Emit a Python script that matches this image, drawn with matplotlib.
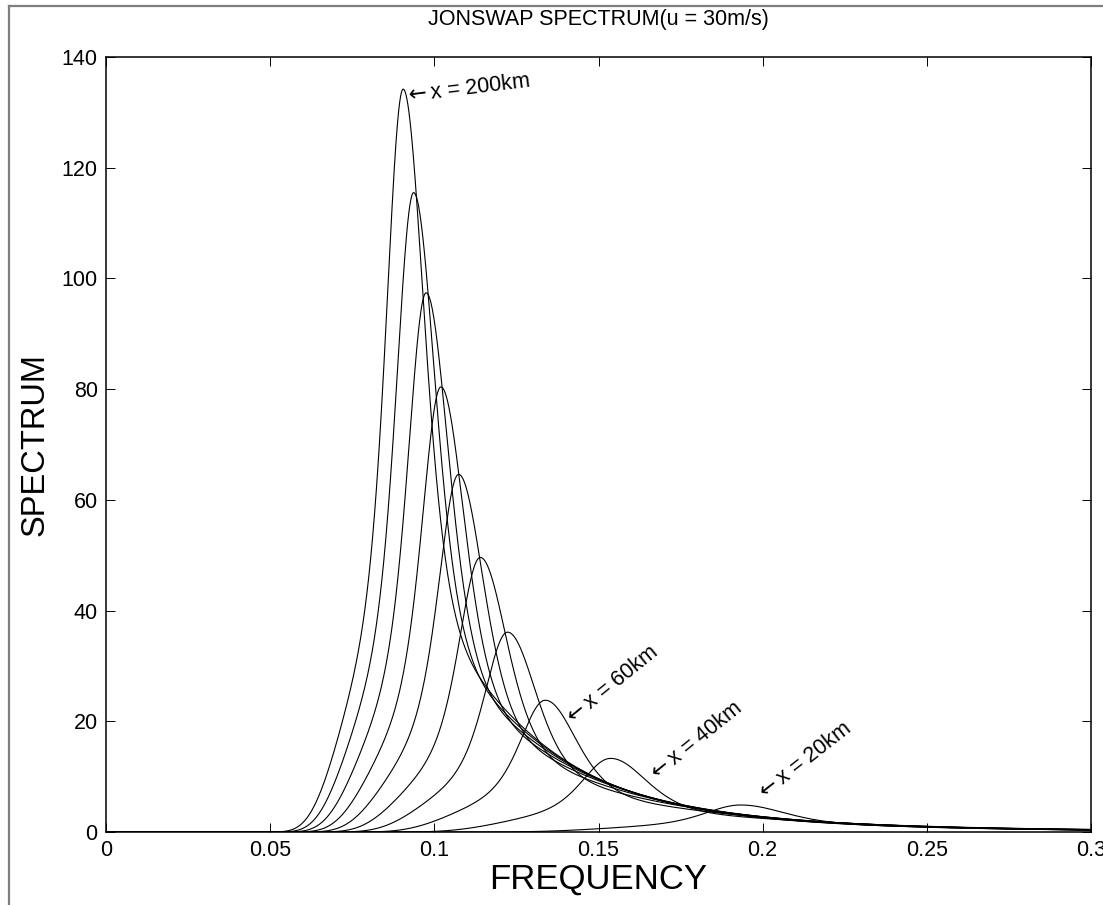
import numpy as np
import matplotlib
matplotlib.use("Agg")
import matplotlib.pyplot as plt
from matplotlib.lines import Line2D

# ---- data ----
fetch_km = [20, 40, 60, 80, 100, 120, 140, 160, 180, 200]
peak_freq = [0.1933, 0.1537, 0.1338, 0.1223, 0.1140, 0.1074, 0.1020, 0.0975, 0.0937, 0.0905]
peak_value = [4.88, 13.3, 23.8, 36.1, 49.6, 64.6, 80.4, 97.4, 115.5, 134.2]

labels = ["x = 200km", "x = 60km", "x = 40km", "x = 20km"]
label_f = [0.0908, 0.1402, 0.1659, 0.1988]
label_s = [132.8, 19.9, 9.75, 6.3]
label_rot = [7, 39, 39, 38]

xticks = [0, 0.05, 0.1, 0.15, 0.2, 0.25, 0.3]
xticklabels = ["0", "0.05", "0.1", "0.15", "0.2", "0.25", "0.3"]
yticks = [0, 20, 40, 60, 80, 100, 120, 140]

g = 9.81
gamma = 3.3

def jonswap_shape(f, fp, speak):
    """JONSWAP spectral shape scaled so that its peak equals speak."""
    with np.errstate(divide="ignore", invalid="ignore", over="ignore"):
        sigma = np.where(f <= fp, 0.07, 0.09)
        r = np.exp(-(f - fp) ** 2 / (2 * sigma ** 2 * fp ** 2))
        base = g ** 2 * (2 * np.pi) ** -4 * f ** -5 * np.exp(-1.25 * (fp / f) ** 4) * gamma ** r
        peak = g ** 2 * (2 * np.pi) ** -4 * fp ** -5 * np.exp(-1.25) * gamma
        s = speak * base / peak
    return np.nan_to_num(s, nan=0.0, posinf=0.0)

plt.rcParams["font.family"] = ["Liberation Sans", "DejaVu Sans"]

fig = plt.figure(figsize=(11.03, 9.05), dpi=100)
ax = fig.add_axes([106 / 1103, 1 - 832 / 905, (1091 - 106) / 1103, (832 - 57) / 905])

f = np.linspace(0.0, 0.3, 3000)
for fp, sp in zip(peak_freq, peak_value):
    ax.plot(f, jonswap_shape(f, fp, sp), color="black", lw=0.8)

ax.set_xlim(0, 0.3)
ax.set_ylim(0, 140)
ax.set_xticks(xticks)
ax.set_xticklabels(xticklabels)
ax.set_yticks(yticks)
ax.tick_params(direction="in", length=6.5, width=0.7, top=True, right=True,
               labelsize=15.5, pad=6)
for sp in ax.spines.values():
    sp.set_linewidth(1.1)

fig.text(598 / 1103, 1 - 20 / 905, "JONSWAP SPECTRUM(u = 30m/s)", fontsize=15.5,
         ha="center", va="center")
ax.set_xlabel("FREQUENCY", fontsize=25, labelpad=1)
ax.set_ylabel("SPECTRUM", fontsize=23.5, labelpad=8)

for t, xf, ys, rot in zip(labels, label_f, label_s, label_rot):
    ax.text(xf, ys, r"$\leftarrow$" + t, rotation=rot, rotation_mode="anchor",
            ha="left", va="center", fontsize=15.5)

# gray window frame (left & top)
fig.add_artist(Line2D([8.5 / 1103, 8.5 / 1103], [0, 1 - 6 / 905], transform=fig.transFigure,
                      color="#7f7f7f", lw=1.6))
fig.add_artist(Line2D([8.5 / 1103, 1], [1 - 6 / 905, 1 - 6 / 905], transform=fig.transFigure,
                      color="#7f7f7f", lw=1.6))

fig.savefig("out.png", dpi=100)
